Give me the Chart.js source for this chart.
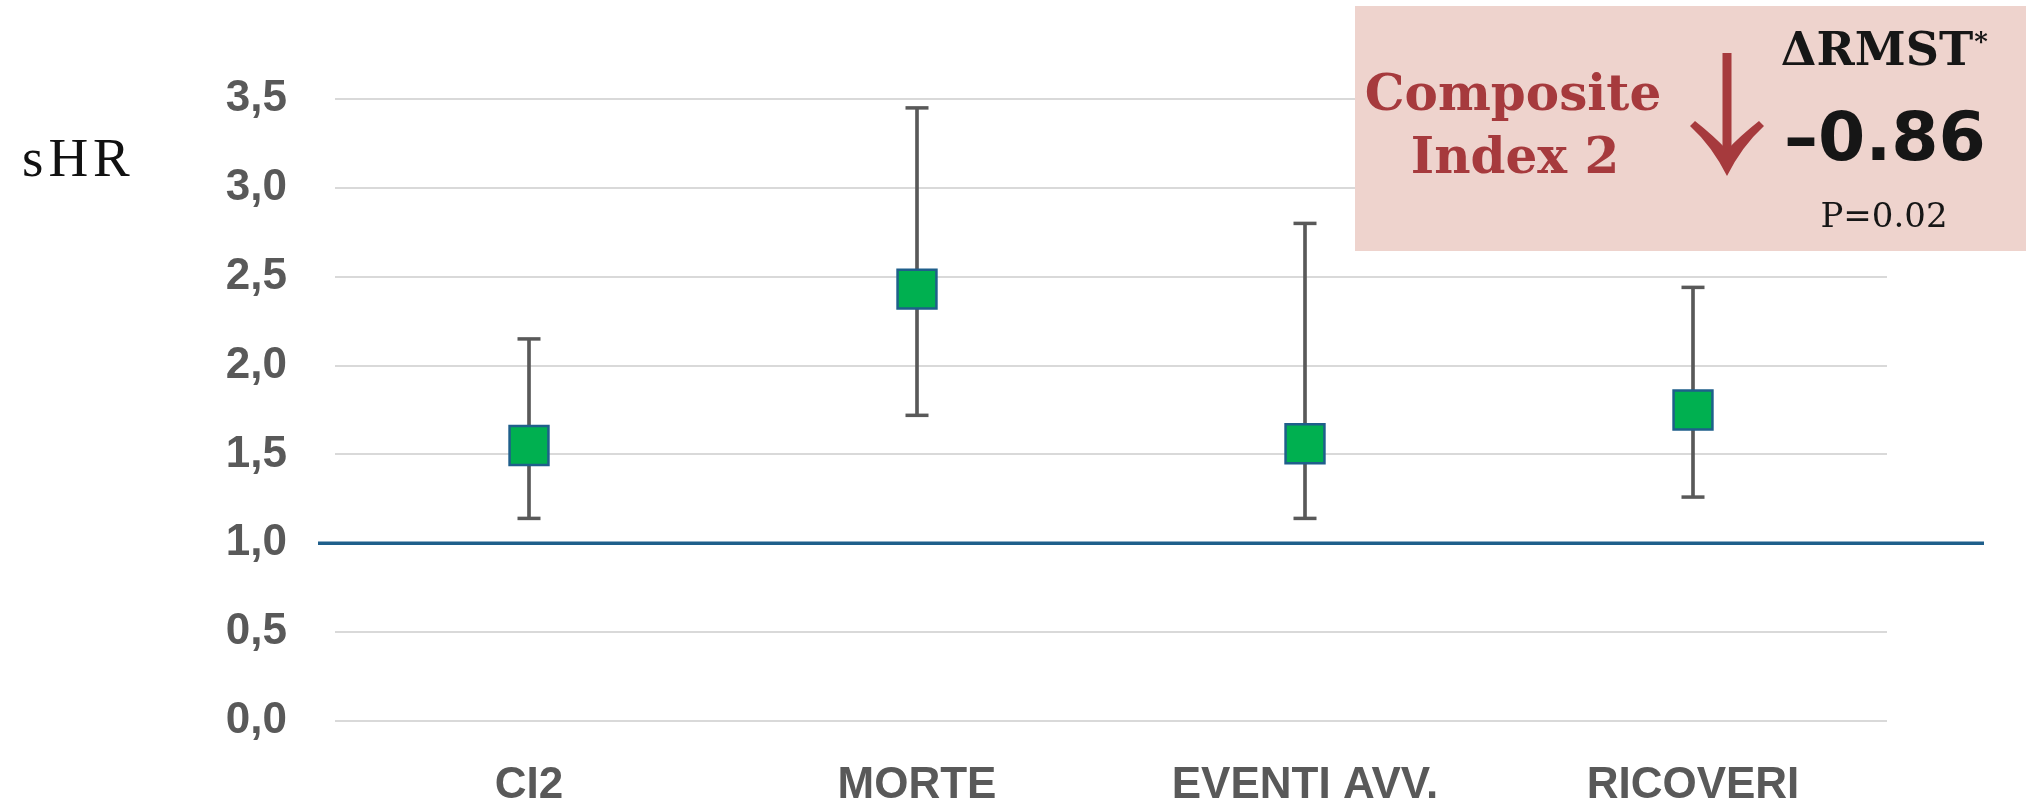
<!DOCTYPE html>
<html>
<head>
<meta charset="utf-8">
<script src="https://cdn.jsdelivr.net/npm/chart.js@4.4.1/dist/chart.umd.min.js"></script>
<style>
  html, body { margin: 0; padding: 0; background: #fff; }
  #wrap { position: relative; width: 2026px; height: 805px; }
</style>
</head>
<body>
<div id="wrap"><canvas id="shrChart"></canvas></div>
<script>
// sHR con intervalli di confidenza
const categories = ['CI2', 'MORTE', 'EVENTI AVV.', 'RICOVERI'];
const shr = [1.55, 2.43, 1.56, 1.75];
const ciLow = [1.14, 1.72, 1.14, 1.26];
const ciHigh = [2.15, 3.45, 2.80, 2.44];
const yTicks = [0, 0.5, 1, 1.5, 2, 2.5, 3, 3.5];
const refLine = 1.0;

const GREY = '#595959';
const RED = '#A63A3D';
const tickFont = { family: '"Liberation Sans", Arial, sans-serif', size: 44, weight: 'bold' };

// linea di riferimento a 1,0 (sporge oltre la griglia)
const refLinePlugin = {
  id: 'refLine',
  beforeDatasetsDraw(chart) {
    const { ctx, chartArea, scales } = chart;
    const y = scales.y.getPixelForValue(refLine);
    ctx.save();
    ctx.strokeStyle = '#1F5F8B';
    ctx.lineWidth = 3.5;
    ctx.beginPath();
    ctx.moveTo(chartArea.left - 17, y);
    ctx.lineTo(chartArea.right + 97, y);
    ctx.stroke();
    ctx.restore();
  }
};

// riquadro "Composite Index 2" + etichetta sHR
const annotationPlugin = {
  id: 'annotation',
  afterDraw(chart) {
    const ctx = chart.ctx;
    ctx.save();

    ctx.fillStyle = '#111';
    ctx.font = '55px "Liberation Serif", "Courier New", serif';
    ctx.letterSpacing = '5px';
    ctx.textAlign = 'left';
    ctx.textBaseline = 'alphabetic';
    ctx.fillText('sHR', 22, 176);
    ctx.letterSpacing = '0px';

    ctx.fillStyle = '#EED3CD';
    ctx.fillRect(1355, 6, 671, 245);

    ctx.fillStyle = RED;
    ctx.font = 'bold 50px "DejaVu Serif", serif';
    ctx.textAlign = 'center';
    ctx.fillText('Composite', 1513, 110);
    ctx.fillText('Index 2', 1515, 173);

    // freccia
    ctx.strokeStyle = RED;
    ctx.lineWidth = 9;
    ctx.beginPath();
    ctx.moveTo(1727, 53);
    ctx.lineTo(1727, 155);
    ctx.stroke();
    ctx.beginPath();
    ctx.moveTo(1727, 176);
    ctx.quadraticCurveTo(1712, 146, 1690, 126);
    ctx.lineTo(1695, 121);
    ctx.quadraticCurveTo(1714, 136, 1727, 150);
    ctx.quadraticCurveTo(1740, 136, 1759, 121);
    ctx.lineTo(1764, 126);
    ctx.quadraticCurveTo(1742, 146, 1727, 176);
    ctx.closePath();
    ctx.fill();

    ctx.fillStyle = '#161616';
    ctx.font = 'bold 46px "DejaVu Serif", serif';
    ctx.textAlign = 'left';
    const w = ctx.measureText('\u0394RMST').width;
    const x0 = 1877 - w / 2;
    ctx.fillText('\u0394RMST', x0, 65);
    ctx.font = 'bold 26px "DejaVu Serif", serif';
    ctx.fillText('*', x0 + w + 1, 50);

    ctx.textAlign = 'center';
    ctx.font = 'bold 68px "DejaVu Sans", sans-serif';
    ctx.fillText('\u20130.86', 1885, 160);
    ctx.font = '34px "DejaVu Serif", serif';
    ctx.fillText('P=0.02', 1884, 227);

    ctx.restore();
  }
};

new Chart(document.getElementById('shrChart'), {
  type: 'bar',
  data: {
    labels: categories,
    datasets: [
      {
        type: 'line', label: 'sHR', data: shr, showLine: false,
        pointStyle: 'rect', pointRadius: 27.5, pointHoverRadius: 27.5,
        pointBackgroundColor: '#00B050', pointBorderColor: '#1F5F8B', pointBorderWidth: 2.5,
        order: 0
      },
      {
        type: 'line', label: 'IC sup', data: ciHigh, showLine: false,
        pointStyle: 'line', pointRadius: 11.5, pointHoverRadius: 11.5,
        pointBorderColor: GREY, pointBorderWidth: 3.5, order: 1
      },
      {
        type: 'line', label: 'IC inf', data: ciLow, showLine: false,
        pointStyle: 'line', pointRadius: 11.5, pointHoverRadius: 11.5,
        pointBorderColor: GREY, pointBorderWidth: 3.5, order: 1
      },
      {
        type: 'bar', label: 'IC', data: ciLow.map((lo, i) => [lo, ciHigh[i]]),
        barThickness: 3, backgroundColor: GREY, borderWidth: 0, order: 2
      }
    ]
  },
  options: {
    responsive: true,
    maintainAspectRatio: false,
    animation: false,
    layout: { padding: { top: 99, right: 139, bottom: 0, left: 0 } },
    plugins: { legend: { display: false }, tooltip: { enabled: false } },
    scales: {
      x: {
        grid: { display: false, drawTicks: false },
        border: { display: false },
        ticks: { color: GREY, font: tickFont, padding: 38 },
        afterFit: s => { s.height = 84; }
      },
      y: {
        min: 0, max: 3.5,
        afterBuildTicks: s => { s.ticks = yTicks.map(v => ({ value: v })); },
        grid: { color: '#D9D9D9', lineWidth: 2, drawTicks: false },
        border: { display: false },
        ticks: { color: GREY, font: tickFont, padding: 48, callback: v => Number(v).toFixed(1).replace('.', ',') },
        afterFit: s => { s.width = 335; }
      }
    }
  },
  plugins: [refLinePlugin, annotationPlugin]
});
</script>
</body>
</html>
